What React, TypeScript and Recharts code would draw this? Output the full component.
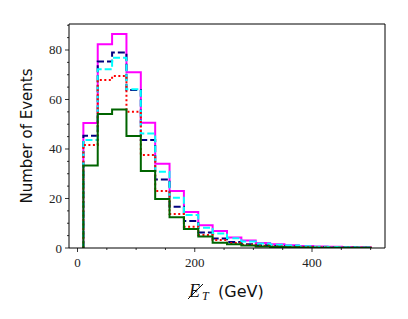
import { Line, LineChart, ReferenceLine, XAxis, YAxis } from "recharts"

// bin edges of the MET histogram (GeV)
const edges = [10, 34.5, 59, 83.5, 108, 132.5, 157, 181.5, 206, 230.5, 255, 279.5, 304, 328.5, 353, 377.5, 402, 426.5, 451, 475.5, 500]

const magenta = [50.5, 82.3, 86.5, 71, 50.6, 34, 23, 14.5, 9.2, 6.9, 4.2, 3, 2, 1.5, 1.1, 0.8, 0.6, 0.5, 0.4, 0.3]
const navy = [45.4, 75.3, 79, 63.8, 43.6, 27.7, 16.7, 10.9, 6.3, 3.8, 2.4, 1.5, 1.1, 0.8, 0.6, 0.4, 0.3, 0.2, 0.2, 0.1]
const cyan = [43.6, 72.2, 76.9, 64.1, 46.3, 30.8, 20.3, 13.3, 8.2, 5.9, 3.9, 2.6, 1.8, 1.3, 1, 0.7, 0.5, 0.4, 0.3, 0.2]
const red = [41.6, 67.9, 69.5, 55, 37.6, 23, 13.7, 8.6, 5.3, 3.2, 2, 1.3, 0.9, 0.6, 0.4, 0.3, 0.2, 0.1, 0.1, 0.1]
const green = [33.3, 54.1, 56, 45.3, 31.1, 19.8, 12.4, 7.7, 4.6, 2.1, 1.5, 1, 0.6, 0.4, 0.3, 0.2, 0.1, 0.1, 0.1, 0.1]

const xTicks = [0, 50, 100, 150, 200, 250, 300, 350, 400, 450, 500]
const yTicks = [0, 5, 10, 15, 20, 25, 30, 35, 40, 45, 50, 55, 60, 65, 70, 75, 80, 85, 90]
const xMajor = [0, 200, 400]
const yMajor = [0, 20, 40, 60, 80]

const X_MIN = -14.5
const X_MAX = 524.5
const Y_MAX = 90.5

// step outline: start at 0 on the first edge, drop back to 0 on the last one
const rows = [
  { x: edges[0], magenta: 0, navy: 0, cyan: 0, red: 0, green: 0 },
  ...edges.slice(1).map((x, i) => ({
    x,
    magenta: magenta[i],
    navy: navy[i],
    cyan: cyan[i],
    red: red[i],
    green: green[i],
  })),
  { x: edges[edges.length - 1], magenta: 0, navy: 0, cyan: 0, red: 0, green: 0 },
]

const tickFont = "'Liberation Serif', 'DejaVu Serif', serif"
const labelFont = "'DejaVu Sans', sans-serif"

function YTick(props: any) {
  const { x, y, payload } = props
  const major = yMajor.includes(payload.value)
  return (
    <g>
      <line x1={x} x2={x - (major ? 4 : 2)} y1={y} y2={y} stroke="#000" strokeWidth={0.8} />
      {major && (
        <text x={x - 7} y={y} dy={4.5} textAnchor="end" fontFamily={tickFont} fontSize={13} fill="#222">
          {payload.value}
        </text>
      )}
    </g>
  )
}

function XTick(props: any) {
  const { x, y, payload } = props
  const major = xMajor.includes(payload.value)
  return (
    <g>
      <line x1={x} x2={x} y1={y} y2={y + (major ? 4 : 2)} stroke="#000" strokeWidth={0.8} />
      {major && (
        <text x={x} y={y + 19} textAnchor="middle" fontFamily={tickFont} fontSize={13} fill="#222">
          {payload.value}
        </text>
      )}
    </g>
  )
}

// slashed E_T (missing transverse energy); the slash is a plain stroke
function XLabel() {
  return (
    <g fill="#111">
      <line x1={188} y1={299} x2={203} y2={284} stroke="#111" strokeWidth={1} />
      <text x={189} y={297} fontFamily={tickFont} fontStyle="italic" fontSize={18}>
        E
      </text>
      <text x={202} y={300} fontFamily={tickFont} fontStyle="italic" fontSize={12}>
        T
      </text>
      <text x={218} y={297} fontFamily={labelFont} fontSize={16}>
        (GeV)
      </text>
    </g>
  )
}

function YLabel(props: any) {
  const { viewBox } = props
  const cy = viewBox.y + viewBox.height / 2
  return (
    <text
      x={32}
      y={cy}
      transform={`rotate(-90 32 ${cy})`}
      textAnchor="middle"
      fontFamily={labelFont}
      fontSize={15}
      fill="#111"
    >
      Number of Events
    </text>
  )
}

const lineProps = {
  type: "stepBefore" as const,
  dot: false,
  activeDot: false,
  strokeWidth: 2,
  strokeLinejoin: "miter" as const,
  isAnimationActive: false,
}

export default function App() {
  return (
    <div style={{ position: "absolute", left: 0, top: 0, width: 408, height: 319, background: "#fff" }}>
      <LineChart width={408} height={319} data={rows} margin={{ top: 24, right: 23, bottom: 0, left: 0 }}>
        <XAxis
          dataKey="x"
          type="number"
          domain={[X_MIN, X_MAX]}
          ticks={xTicks}
          interval={0}
          allowDataOverflow
          height={71}
          tickSize={0}
          tickMargin={0}
          tick={<XTick />}
          axisLine={{ stroke: "#000", strokeWidth: 1 }}
          label={<XLabel />}
        />
        <YAxis
          type="number"
          domain={[0, Y_MAX]}
          ticks={yTicks}
          interval={0}
          allowDataOverflow
          width={69}
          tickSize={0}
          tickMargin={0}
          tick={<YTick />}
          axisLine={{ stroke: "#000", strokeWidth: 1 }}
          label={<YLabel />}
        />
        <ReferenceLine y={Y_MAX} stroke="#000" strokeWidth={1} />
        <ReferenceLine x={X_MAX} stroke="#000" strokeWidth={1} />
        <Line {...lineProps} dataKey="magenta" stroke="#ff00ff" />
        <Line {...lineProps} dataKey="navy" stroke="#000080" strokeDasharray="7 3" />
        <Line {...lineProps} dataKey="cyan" stroke="#00ffff" strokeDasharray="7 3" />
        <Line {...lineProps} dataKey="red" stroke="#ff0000" strokeDasharray="2 2.5" />
        <Line {...lineProps} dataKey="green" stroke="#006400" />
      </LineChart>
    </div>
  )
}
